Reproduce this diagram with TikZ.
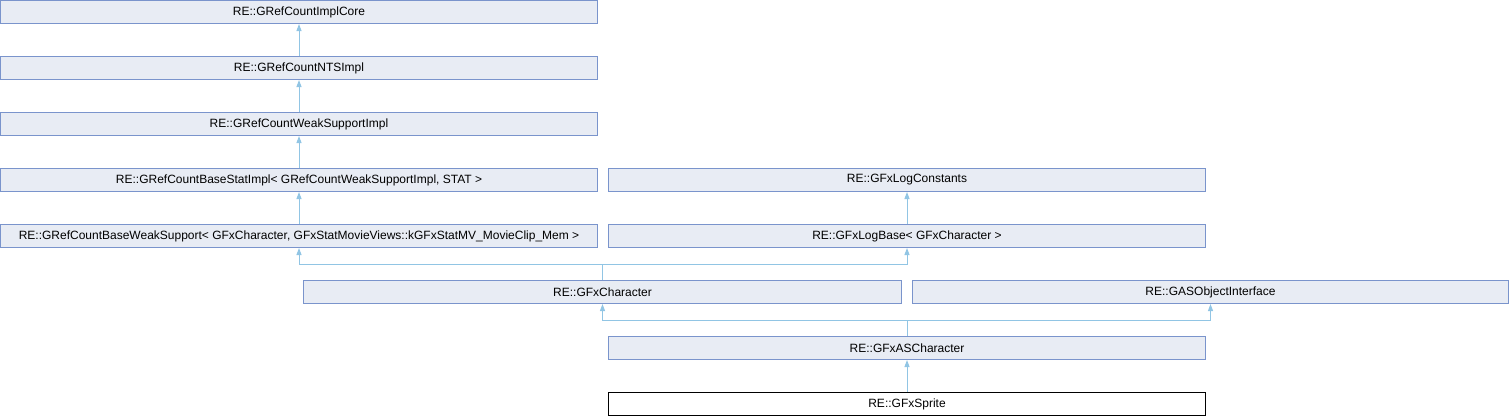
\documentclass[tikz,border=0pt]{standalone}
\usepackage{fontspec}
\setmainfont{Liberation Sans}
\usetikzlibrary{arrows.meta}
\definecolor{boxfill}{RGB}{232,236,244}
\definecolor{boxline}{RGB}{122,148,204}
\definecolor{connc}{RGB}{145,197,228}
\begin{document}
\begin{tikzpicture}[x=1pt,y=-1pt,
  cls/.style={draw=boxline, fill=boxfill, line width=1pt, minimum height=23pt, inner sep=0pt, anchor=center, font=\fontsize{12}{14}\selectfont},
  cur/.style={cls, draw=black, fill=white},
  inh/.style={draw=connc, line width=1pt, -{Triangle[width=5pt,length=7pt]}}]
\useasboundingbox (0,0) rectangle (1510,416);
\node[cls, minimum width=597pt] (A) at (299,12) {RE::GRefCountImplCore};
\node[cls, minimum width=597pt] (B) at (299,68) {RE::GRefCountNTSImpl};
\node[cls, minimum width=597pt] (C) at (299,124) {RE::GRefCountWeakSupportImpl};
\node[cls, minimum width=597pt] (D) at (299,180) {RE::GRefCountBaseStatImpl< GRefCountWeakSupportImpl, STAT >};
\node[cls, minimum width=597pt] (LC) at (907,180) {RE::GFxLogConstants};
\node[cls, minimum width=597pt] (E) at (299,236) {RE::GRefCountBaseWeakSupport< GFxCharacter, GFxStatMovieViews::kGFxStatMV\_MovieClip\_Mem >};
\node[cls, minimum width=597pt] (LB) at (907,236) {RE::GFxLogBase< GFxCharacter >};
\node[cls, minimum width=598pt] (CH) at (602.5,292) {RE::GFxCharacter};
\node[cls, minimum width=596pt] (AO) at (1210.5,292) {RE::GASObjectInterface};
\node[cls, minimum width=597pt] (AS) at (907,348) {RE::GFxASCharacter};
\node[cur, minimum width=597pt] (SP) at (907,404) {RE::GFxSprite};
\coordinate (j1) at (602.5,264);
\coordinate (j2) at (907,320);
\draw[inh] (B.north) -- (A.south);
\draw[inh] (C.north) -- (B.south);
\draw[inh] (D.north) -- (C.south);
\draw[inh] (E.north) -- (D.south);
\draw[inh] (LB.north) -- (LC.south);
\draw[inh] (CH.north) -- (j1) -| (E.south);
\draw[inh] (CH.north) -- (j1) -| (LB.south);
\draw[inh] (AS.north) -- (j2) -| (CH.south);
\draw[inh] (AS.north) -- (j2) -| (AO.south);
\draw[inh] (SP.north) -- (AS.south);
\end{tikzpicture}
\end{document}
